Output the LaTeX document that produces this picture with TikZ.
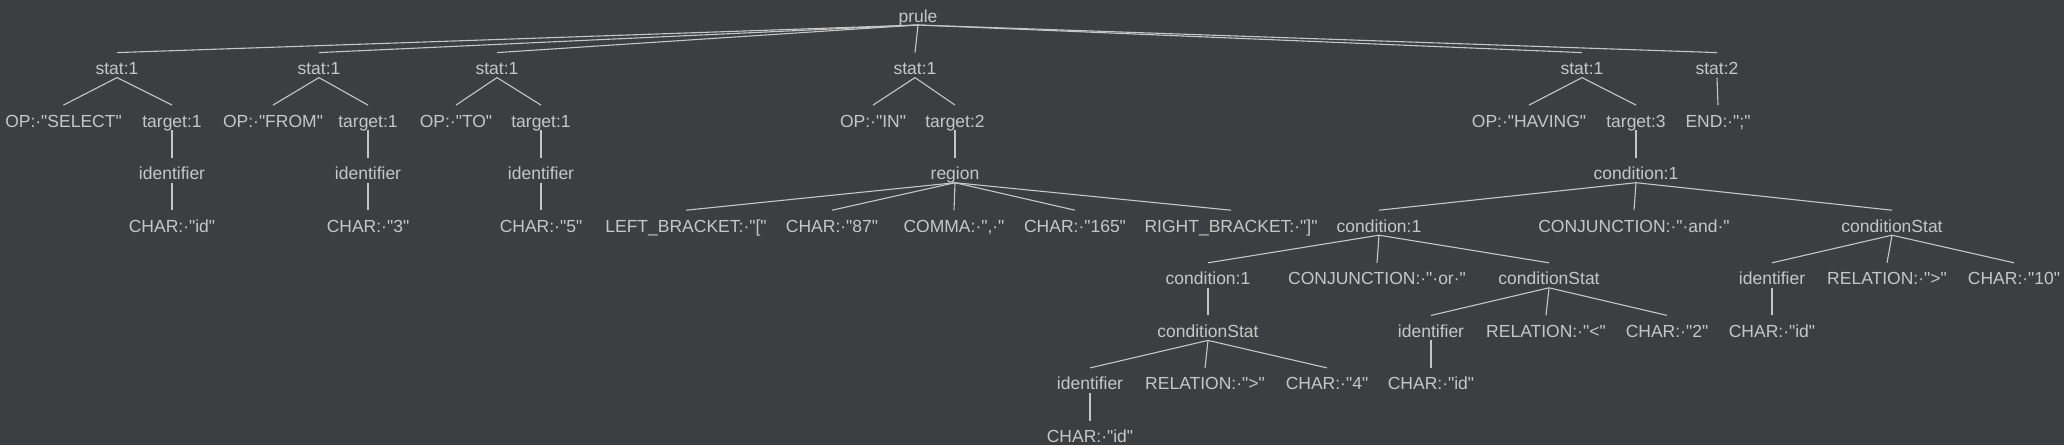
\documentclass[tikz,border=0pt]{standalone}
\usepackage{fontspec}
\newfontfamily\treefont{Liberation Sans}
\usetikzlibrary{positioning}
\definecolor{bgdark}{HTML}{3C3F41}
\definecolor{treefg}{HTML}{C6C6C6}
\tikzset{
	tok/.style={
		anchor=base, inner sep=0, outer sep=0,
		text height=22pt, text depth=3pt,
		text=treefg, font=\treefont\fontsize{17.5}{20}\selectfont,
	},
	link/.style={
		draw=treefg, line width=1.1pt,
	}
}

\begin{document}
\begin{tikzpicture}[x=1pt, y=-1pt]
	% background and page size
	\fill[bgdark] (0,0) rectangle (2064,445);
	\useasboundingbox (0,0) rectangle (2064,445);
	% root and statements
	\node [tok] (prule) at (918,22) {prule};
	\node [tok] (statA) at (117,74.6) {stat:1};
	\node [tok] (statB) at (319,74.6) {stat:1};
	\node [tok] (statC) at (497,74.6) {stat:1};
	\node [tok] (statD) at (915,74.6) {stat:1};
	\node [tok] (statE) at (1582,74.6) {stat:1};
	\node [tok] (statF) at (1717,74.6) {stat:2};
	% operators and targets
	\node [tok] (opA) at (63.5,127.1) {OP:·"SELECT"};
	\node [tok] (targetA) at (172,127.1) {target:1};
	\node [tok] (opB) at (273,127.1) {OP:·"FROM"};
	\node [tok] (targetB) at (368,127.1) {target:1};
	\node [tok] (opC) at (456,127.1) {OP:·"TO"};
	\node [tok] (targetC) at (541,127.1) {target:1};
	\node [tok] (opD) at (873,127.1) {OP:·"IN"};
	\node [tok] (targetD) at (955,127.1) {target:2};
	\node [tok] (opE) at (1529,127.1) {OP:·"HAVING"};
	\node [tok] (targetE) at (1636,127.1) {target:3};
	\node [tok] (endF) at (1718,127.1) {END:·";"};
	% identifiers, region, condition
	\node [tok] (identA) at (172,179.7) {identifier};
	\node [tok] (identB) at (368,179.7) {identifier};
	\node [tok] (identC) at (541,179.7) {identifier};
	\node [tok] (region) at (955,179.7) {region};
	\node [tok] (condA) at (1636,179.7) {condition:1};
	% fourth level
	\node [tok] (charA) at (172,232.2) {CHAR:·"id"};
	\node [tok] (charB) at (368,232.2) {CHAR:·"3"};
	\node [tok] (charC) at (541,232.2) {CHAR:·"5"};
	\node [tok] (lbrack) at (686,232.2) {LEFT\_BRACKET:·"["};
	\node [tok] (char87) at (832,232.2) {CHAR:·"87"};
	\node [tok] (comma) at (954,232.2) {COMMA:·",·"};
	\node [tok] (char165) at (1075,232.2) {CHAR:·"165"};
	\node [tok] (rbrack) at (1231,232.2) {RIGHT\_BRACKET:·"]"};
	\node [tok] (condB) at (1379,232.2) {condition:1};
	\node [tok] (conjAnd) at (1634,232.2) {CONJUNCTION:·"·and·"};
	\node [tok] (cstatA) at (1892,232.2) {conditionStat};
	% fifth level
	\node [tok] (condC) at (1208,284.8) {condition:1};
	\node [tok] (conjOr) at (1377,284.8) {CONJUNCTION:·"·or·"};
	\node [tok] (cstatB) at (1549,284.8) {conditionStat};
	\node [tok] (identD) at (1772,284.8) {identifier};
	\node [tok] (relA) at (1887,284.8) {RELATION:·">"};
	\node [tok] (char10) at (2014,284.8) {CHAR:·"10"};
	% sixth level
	\node [tok] (cstatC) at (1208,337.4) {conditionStat};
	\node [tok] (identE) at (1431,337.4) {identifier};
	\node [tok] (relB) at (1546,337.4) {RELATION:·"<"};
	\node [tok] (char2) at (1667,337.4) {CHAR:·"2"};
	\node [tok] (charD) at (1772,337.4) {CHAR:·"id"};
	% seventh and eighth level
	\node [tok] (identF) at (1090,389.9) {identifier};
	\node [tok] (relC) at (1205,389.9) {RELATION:·">"};
	\node [tok] (char4) at (1327,389.9) {CHAR:·"4"};
	\node [tok] (charE) at (1431,389.9) {CHAR:·"id"};
	\node [tok] (charF) at (1090,442.5) {CHAR:·"id"};
	% root connections
	\draw[link] (prule.south) -- (statA.north);
	\draw[link] (prule.south) -- (statB.north);
	\draw[link] (prule.south) -- (statC.north);
	\draw[link] (prule.south) -- (statD.north);
	\draw[link] (prule.south) -- (statE.north);
	\draw[link] (prule.south) -- (statF.north);
	% simple statements
	\draw[link] (statA.south) -- (opA.north);
	\draw[link] (statA.south) -- (targetA.north);
	\draw[link] (targetA.south) -- (identA.north);
	\draw[link] (identA.south) -- (charA.north);
	\draw[link] (statB.south) -- (opB.north);
	\draw[link] (statB.south) -- (targetB.north);
	\draw[link] (targetB.south) -- (identB.north);
	\draw[link] (identB.south) -- (charB.north);
	\draw[link] (statC.south) -- (opC.north);
	\draw[link] (statC.south) -- (targetC.north);
	\draw[link] (targetC.south) -- (identC.north);
	\draw[link] (identC.south) -- (charC.north);
	% region statement
	\draw[link] (statD.south) -- (opD.north);
	\draw[link] (statD.south) -- (targetD.north);
	\draw[link] (targetD.south) -- (region.north);
	\draw[link] (region.south) -- (lbrack.north);
	\draw[link] (region.south) -- (char87.north);
	\draw[link] (region.south) -- (comma.north);
	\draw[link] (region.south) -- (char165.north);
	\draw[link] (region.south) -- (rbrack.north);
	% having statement
	\draw[link] (statE.south) -- (opE.north);
	\draw[link] (statE.south) -- (targetE.north);
	\draw[link] (statF.south) -- (endF.north);
	\draw[link] (targetE.south) -- (condA.north);
	\draw[link] (condA.south) -- (condB.north);
	\draw[link] (condA.south) -- (conjAnd.north);
	\draw[link] (condA.south) -- (cstatA.north);
	\draw[link] (cstatA.south) -- (identD.north);
	\draw[link] (cstatA.south) -- (relA.north);
	\draw[link] (cstatA.south) -- (char10.north);
	\draw[link] (identD.south) -- (charD.north);
	\draw[link] (condB.south) -- (condC.north);
	\draw[link] (condB.south) -- (conjOr.north);
	\draw[link] (condB.south) -- (cstatB.north);
	\draw[link] (cstatB.south) -- (identE.north);
	\draw[link] (cstatB.south) -- (relB.north);
	\draw[link] (cstatB.south) -- (char2.north);
	\draw[link] (identE.south) -- (charE.north);
	\draw[link] (condC.south) -- (cstatC.north);
	\draw[link] (cstatC.south) -- (identF.north);
	\draw[link] (cstatC.south) -- (relC.north);
	\draw[link] (cstatC.south) -- (char4.north);
	\draw[link] (identF.south) -- (charF.north);
\end{tikzpicture}
\end{document}
